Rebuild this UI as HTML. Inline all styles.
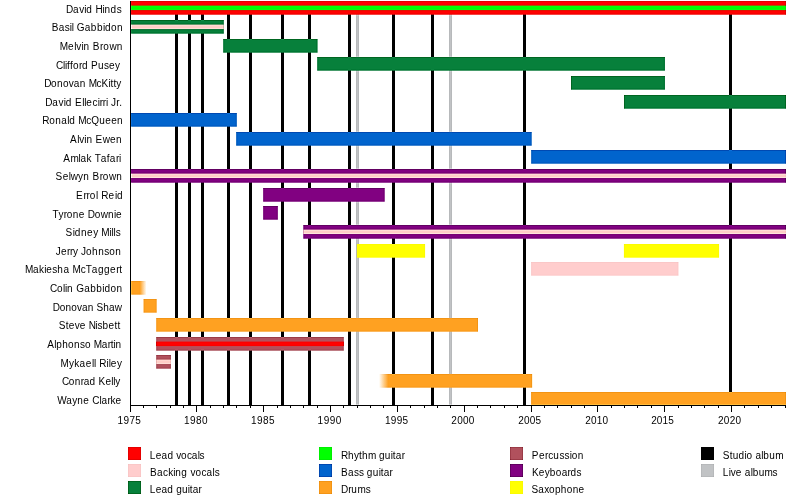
<!DOCTYPE html>
<html><head><meta charset="utf-8"><style>
html,body{margin:0;padding:0;background:#fff;width:800px;height:500px;overflow:hidden}
svg{display:block;will-change:transform}
text{font-family:"Liberation Sans",sans-serif;font-size:10px;fill:#000;font-kerning:none;-webkit-font-smoothing:antialiased}
</style></head><body>
<svg width="800" height="500" viewBox="0 0 800 500">
<defs>
<filter id="sh" x="0" y="0" width="800" height="500" filterUnits="userSpaceOnUse" color-interpolation-filters="sRGB"><feColorMatrix in="SourceGraphic" type="matrix" values="0.299 0.587 0.114 0 0 0.299 0.587 0.114 0 0 0.299 0.587 0.114 0 0 0 0 0 1 0" result="L"/><feConvolveMatrix in="L" order="3" kernelMatrix="0 -0.15 0 -0.15 0.60 -0.15 0 -0.15 0" divisor="1" bias="0.5" edgeMode="duplicate" preserveAlpha="true" result="D"/><feComposite in="SourceGraphic" in2="D" operator="arithmetic" k1="0" k2="1" k3="1" k4="-0.5"/></filter>
<linearGradient id="fadeR" x1="0" x2="1" y1="0" y2="0"><stop offset="0" stop-color="#ffa020"/><stop offset="0.6" stop-color="#ffa020"/><stop offset="1" stop-color="#ffa020" stop-opacity="0"/></linearGradient>
<linearGradient id="fadeL" x1="0" x2="1" y1="0" y2="0"><stop offset="0" stop-color="#ffa020" stop-opacity="0"/><stop offset="0.06" stop-color="#ffa020"/><stop offset="1" stop-color="#ffa020"/></linearGradient>
</defs>
<rect width="800" height="500" fill="#fff"/><g filter="url(#sh)"><rect width="800" height="500" fill="#fff"/>
<rect x="175.0" y="1" width="3" height="404" fill="#000000"/>
<rect x="188.0" y="1" width="3" height="404" fill="#000000"/>
<rect x="201.0" y="1" width="3" height="404" fill="#000000"/>
<rect x="227.0" y="1" width="3" height="404" fill="#000000"/>
<rect x="249.0" y="1" width="3" height="404" fill="#000000"/>
<rect x="281.0" y="1" width="3" height="404" fill="#000000"/>
<rect x="308.0" y="1" width="3" height="404" fill="#000000"/>
<rect x="348.0" y="1" width="3" height="404" fill="#000000"/>
<rect x="392.0" y="1" width="3" height="404" fill="#000000"/>
<rect x="431.0" y="1" width="3" height="404" fill="#000000"/>
<rect x="523.0" y="1" width="3" height="404" fill="#000000"/>
<rect x="729.0" y="1" width="3" height="404" fill="#000000"/>
<rect x="356.0" y="1" width="3" height="404" fill="#c0c2c4"/>
<rect x="449.0" y="1" width="3" height="404" fill="#c0c2c4"/>
<rect x="130" y="1" width="656.00" height="13.7" fill="#ff0000"/>
<rect x="130" y="5.6" width="656.00" height="4.5" fill="#00ff00"/>
<rect x="130" y="20" width="93.80" height="13.7" fill="#067f3a"/>
<rect x="130" y="24.6" width="93.80" height="4.5" fill="#ffcdc6"/>
<rect x="223.2" y="39" width="94.40" height="13.7" fill="#067f3a"/>
<rect x="317.2" y="57" width="347.70" height="13.7" fill="#067f3a"/>
<rect x="571.0" y="76" width="93.90" height="13.7" fill="#067f3a"/>
<rect x="624.0" y="95" width="162.00" height="13.7" fill="#067f3a"/>
<rect x="130" y="113" width="106.80" height="13.7" fill="#0063cc"/>
<rect x="236.2" y="132" width="295.50" height="13.7" fill="#0063cc"/>
<rect x="531.2" y="150" width="254.80" height="13.7" fill="#0063cc"/>
<rect x="130" y="169" width="656.00" height="13.7" fill="#800080"/>
<rect x="130" y="173.6" width="656.00" height="4.5" fill="#ffcdc6"/>
<rect x="263.2" y="188" width="121.50" height="13.7" fill="#800080"/>
<rect x="263.2" y="206" width="14.60" height="13.7" fill="#800080"/>
<rect x="303.3" y="225" width="482.70" height="13.7" fill="#800080"/>
<rect x="303.3" y="229.6" width="482.70" height="4.5" fill="#ffcdc6"/>
<rect x="356.9" y="244" width="68.20" height="13.7" fill="#ffff00"/>
<rect x="623.9" y="244" width="95.20" height="13.7" fill="#ffff00"/>
<rect x="531.1" y="262" width="147.40" height="13.7" fill="#ffcccc"/>
<rect x="130" y="281" width="16.50" height="13.7" fill="url(#fadeR)"/>
<rect x="143.5" y="299" width="13.20" height="13.7" fill="#ffa020"/>
<rect x="156.2" y="318" width="321.80" height="13.7" fill="#ffa020"/>
<rect x="156.2" y="337" width="187.60" height="13.7" fill="#b0505c"/>
<rect x="156.2" y="341.6" width="187.60" height="4.5" fill="#ff0000"/>
<rect x="156.2" y="355" width="14.70" height="13.7" fill="#b0505c"/>
<rect x="156.2" y="359.6" width="14.70" height="4.5" fill="#ffcdc6"/>
<rect x="379" y="374" width="153.20" height="13.7" fill="url(#fadeL)"/>
<rect x="531.1" y="392" width="254.90" height="13.7" fill="#ffa020"/>
<rect x="130" y="1" width="1" height="405" fill="#000"/>
<rect x="130" y="405" width="656" height="1" fill="#000"/>
<rect x="130" y="405" width="1" height="7" fill="#000"/>
<rect x="143" y="405" width="1" height="3" fill="#000"/>
<rect x="156" y="405" width="1" height="3" fill="#000"/>
<rect x="170" y="405" width="1" height="3" fill="#000"/>
<rect x="183" y="405" width="1" height="3" fill="#000"/>
<rect x="196" y="405" width="1" height="7" fill="#000"/>
<rect x="210" y="405" width="1" height="3" fill="#000"/>
<rect x="223" y="405" width="1" height="3" fill="#000"/>
<rect x="236" y="405" width="1" height="3" fill="#000"/>
<rect x="250" y="405" width="1" height="3" fill="#000"/>
<rect x="263" y="405" width="1" height="7" fill="#000"/>
<rect x="277" y="405" width="1" height="3" fill="#000"/>
<rect x="290" y="405" width="1" height="3" fill="#000"/>
<rect x="303" y="405" width="1" height="3" fill="#000"/>
<rect x="317" y="405" width="1" height="3" fill="#000"/>
<rect x="330" y="405" width="1" height="7" fill="#000"/>
<rect x="343" y="405" width="1" height="3" fill="#000"/>
<rect x="357" y="405" width="1" height="3" fill="#000"/>
<rect x="370" y="405" width="1" height="3" fill="#000"/>
<rect x="383" y="405" width="1" height="3" fill="#000"/>
<rect x="397" y="405" width="1" height="7" fill="#000"/>
<rect x="410" y="405" width="1" height="3" fill="#000"/>
<rect x="424" y="405" width="1" height="3" fill="#000"/>
<rect x="437" y="405" width="1" height="3" fill="#000"/>
<rect x="450" y="405" width="1" height="3" fill="#000"/>
<rect x="464" y="405" width="1" height="7" fill="#000"/>
<rect x="477" y="405" width="1" height="3" fill="#000"/>
<rect x="490" y="405" width="1" height="3" fill="#000"/>
<rect x="504" y="405" width="1" height="3" fill="#000"/>
<rect x="517" y="405" width="1" height="3" fill="#000"/>
<rect x="531" y="405" width="1" height="7" fill="#000"/>
<rect x="544" y="405" width="1" height="3" fill="#000"/>
<rect x="557" y="405" width="1" height="3" fill="#000"/>
<rect x="571" y="405" width="1" height="3" fill="#000"/>
<rect x="584" y="405" width="1" height="3" fill="#000"/>
<rect x="597" y="405" width="1" height="7" fill="#000"/>
<rect x="611" y="405" width="1" height="3" fill="#000"/>
<rect x="624" y="405" width="1" height="3" fill="#000"/>
<rect x="637" y="405" width="1" height="3" fill="#000"/>
<rect x="651" y="405" width="1" height="3" fill="#000"/>
<rect x="664" y="405" width="1" height="7" fill="#000"/>
<rect x="678" y="405" width="1" height="3" fill="#000"/>
<rect x="691" y="405" width="1" height="3" fill="#000"/>
<rect x="704" y="405" width="1" height="3" fill="#000"/>
<rect x="718" y="405" width="1" height="3" fill="#000"/>
<rect x="731" y="405" width="1" height="7" fill="#000"/>
<rect x="744" y="405" width="1" height="3" fill="#000"/>
<rect x="758" y="405" width="1" height="3" fill="#000"/>
<rect x="771" y="405" width="1" height="3" fill="#000"/>
<rect x="785" y="405" width="1" height="3" fill="#000"/>
<rect x="128" y="447" width="13" height="13" fill="#ff0000"/>
<rect x="128" y="464" width="13" height="13" fill="#ffcccc"/>
<rect x="128" y="481" width="13" height="13" fill="#067f3a"/>
<rect x="319" y="447" width="13" height="13" fill="#00ff00"/>
<rect x="319" y="464" width="13" height="13" fill="#0063cc"/>
<rect x="319" y="481" width="13" height="13" fill="#ffa020"/>
<rect x="510" y="447" width="13" height="13" fill="#b0505c"/>
<rect x="510" y="464" width="13" height="13" fill="#800080"/>
<rect x="510" y="481" width="13" height="13" fill="#ffff00"/>
<rect x="701" y="447" width="13" height="13" fill="#000000"/>
<rect x="701" y="464" width="13" height="13" fill="#c0c2c4"/>
</g>
<text x="65.97 73.07 79.15 84.22 86.25 92.34 95.38 102.48 104.50 110.59 116.67" y="13">David Hinds</text>
<text x="51.63 58.67 64.71 69.74 71.75 73.76 76.78 84.83 90.87 96.91 102.94 104.96 110.99 117.03" y="31">Basil Gabbidon</text>
<text x="59.76 68.03 74.23 76.30 81.47 83.54 89.74 92.85 100.08 103.19 109.39 116.63" y="50">Melvin Brown</text>
<text x="55.95 62.95 64.95 66.94 69.94 72.94 78.94 81.94 87.93 90.93 97.93 103.92 108.92 114.92" y="69">Clifford Pusey</text>
<text x="44.14 51.06 57.00 62.94 68.87 73.82 79.76 85.69 88.66 96.58 101.52 108.45 110.43 113.39 116.36" y="87">Donovan McKitty</text>
<text x="45.14 52.35 58.53 63.69 65.75 71.93 75.02 82.23 84.29 86.36 92.54 97.69 99.75 102.84 105.93 107.99 111.09 116.24 119.33" y="106">David Ellecirri Jr.</text>
<text x="42.21 49.20 55.20 61.19 67.18 69.18 75.17 78.17 86.16 91.15 99.14 105.14 111.13 117.12" y="124">Ronald McQueen</text>
<text x="70.02 77.19 79.24 84.36 86.41 92.55 95.62 102.79 109.96 116.10" y="143">Alvin Ewen</text>
<text x="63.33 70.41 78.50 80.52 86.58 91.64 94.67 100.74 106.80 109.83 115.90 118.93" y="162">Amlak Tafari</text>
<text x="55.42 62.63 68.80 70.86 78.07 83.21 89.39 92.48 99.68 102.77 108.95 116.15" y="180">Selwyn Brown</text>
<text x="76.09 83.43 86.58 89.73 96.02 98.12 101.27 108.61 114.90 117.00" y="199">Errol Reid</text>
<text x="52.58 58.62 63.65 66.66 72.70 78.74 84.77 87.79 94.84 100.87 107.91 113.95 115.96" y="218">Tyrone Downie</text>
<text x="65.58 72.74 74.78 80.91 87.04 93.17 98.27 101.34 109.51 111.56 113.60 115.64" y="236">Sidney Mills</text>
<text x="55.84 60.88 66.92 69.95 72.97 78.00 81.03 86.06 92.11 98.15 104.19 109.23 115.27" y="255">Jerry Johnson</text>
<text x="24.92 33.04 39.12 44.19 46.22 52.30 57.37 63.46 69.54 72.58 80.70 85.77 91.85 97.94 104.02 110.10 116.19 119.23" y="273">Makiesha McTaggert</text>
<text x="49.95 57.01 63.05 65.07 67.08 73.13 76.16 84.22 90.27 96.31 102.36 104.38 110.42 116.47" y="292">Colin Gabbidon</text>
<text x="52.86 59.64 65.45 71.27 77.08 81.92 87.74 93.55 96.46 103.24 109.05 114.87" y="311">Donovan Shaw</text>
<text x="58.79 65.76 68.74 74.71 79.68 85.65 88.63 95.60 97.58 102.56 108.53 114.49 117.48" y="329">Steve Nisbett</text>
<text x="47.33 54.26 56.24 62.17 68.11 74.04 79.98 84.92 90.86 93.82 101.74 107.67 110.64 113.61 115.59" y="348">Alphonso Martin</text>
<text x="60.59 68.96 74.19 79.42 85.69 91.97 94.06 96.15 99.29 106.61 108.70 110.79 117.07" y="367">Mykaell Riley</text>
<text x="61.95 68.86 74.78 80.70 83.66 89.59 95.51 98.47 105.38 111.30 113.27 115.25" y="385">Conrad Kelly</text>
<text x="57.35 66.35 72.36 77.36 83.37 89.37 92.37 99.38 101.38 107.39 110.39 115.39" y="404">Wayne Clarke</text>
<text x="117.62 123.53 129.44 135.35" y="424">1975</text>
<text x="184.06 190.01 195.97 201.92" y="424">1980</text>
<text x="251.06 257.04 263.02 269.00" y="424">1985</text>
<text x="317.62 323.66 329.71 335.76" y="424">1990</text>
<text x="384.90 390.79 396.69 402.58" y="424">1995</text>
<text x="451.36 457.16 462.97 468.77" y="424">2000</text>
<text x="518.24 524.02 529.80 535.58" y="424">2005</text>
<text x="585.24 590.98 596.72 602.45" y="424">2010</text>
<text x="651.16 656.84 662.51 668.18" y="424">2015</text>
<text x="717.96 723.84 729.72 735.61" y="424">2020</text>
<text x="149.81 155.67 161.52 167.38 173.24 176.16 181.04 186.90 191.78 197.63 199.59" y="459">Lead vocals</text>
<text x="149.94 157.02 163.08 168.14 173.19 175.22 181.28 187.35 190.38 195.43 201.50 206.55 212.62 214.64" y="476">Backing vocals</text>
<text x="149.81 155.67 161.52 167.37 173.22 176.15 182.00 187.85 189.81 192.73 198.58" y="493">Lead guitar</text>
<text x="341.09 348.06 354.03 359.00 361.99 367.96 375.92 378.90 384.87 390.84 392.83 395.82 401.79" y="459">Rhythm guitar</text>
<text x="341.09 348.02 353.95 358.90 363.85 366.82 372.75 378.69 380.67 383.63 389.57" y="476">Bass guitar</text>
<text x="340.97 348.17 351.26 357.44 365.67" y="493">Drums</text>
<text x="531.74 538.91 545.06 548.13 553.25 559.39 564.52 569.64 571.68 577.83" y="459">Percussion</text>
<text x="531.90 538.85 544.80 549.76 555.71 561.66 567.61 570.58 576.54" y="476">Keyboards</text>
<text x="531.42 538.29 544.18 549.08 554.97 560.85 566.74 572.63 578.51" y="493">Saxophone</text>
<text x="722.77 729.69 732.66 738.59 744.52 746.50 752.43 755.40 761.33 763.31 769.24 775.18" y="459">Studio album</text>
<text x="722.81 728.79 730.78 735.75 741.73 744.71 750.69 752.68 758.65 764.62 772.59" y="476">Live albums</text>
</svg></body></html>
